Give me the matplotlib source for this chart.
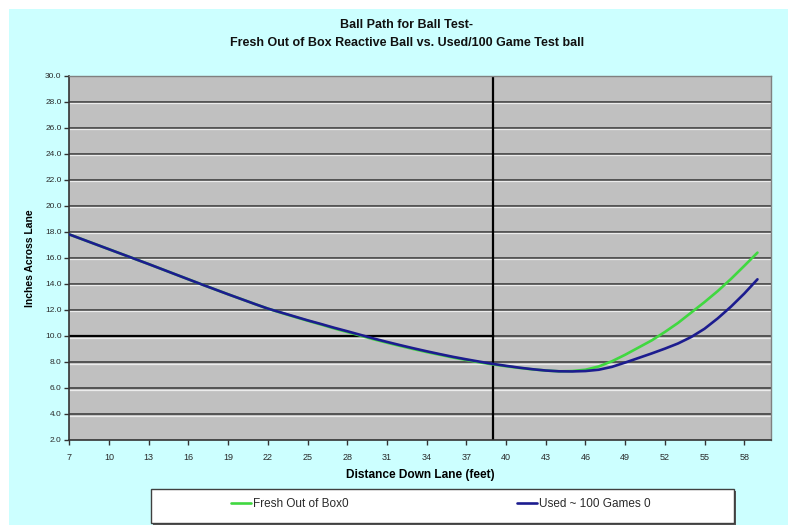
import matplotlib
matplotlib.use("Agg")
import matplotlib.pyplot as plt
from matplotlib.patches import Rectangle
import matplotlib.transforms as mtransforms

plt.rcParams['font.family'] = ['Liberation Sans', 'DejaVu Sans']

# ---- data ----
distance = list(range(7, 60))
fresh = [17.80, 17.42, 17.04, 16.66, 16.28, 15.90, 15.52, 15.13, 14.74, 14.35,
         13.96, 13.58, 13.20, 12.83, 12.46, 12.10, 11.78, 11.47, 11.17, 10.88,
         10.58, 10.30, 10.02, 9.74, 9.48, 9.23, 8.99, 8.76, 8.55, 8.34,
         8.15, 7.97, 7.81, 7.67, 7.54, 7.43, 7.34, 7.28,
         7.30, 7.40, 7.65, 8.05, 8.55, 9.10, 9.65, 10.30, 11.00, 11.80,
         12.60, 13.45, 14.38, 15.38, 16.40]
used = [17.80, 17.42, 17.04, 16.66, 16.28, 15.90, 15.52, 15.13, 14.74, 14.35,
        13.96, 13.58, 13.20, 12.83, 12.46, 12.10, 11.80, 11.50, 11.20, 10.92,
        10.63, 10.36, 10.08, 9.80, 9.54, 9.29, 9.05, 8.82, 8.60, 8.39,
        8.20, 8.02, 7.85, 7.70, 7.56, 7.44, 7.34, 7.28,
        7.27, 7.30, 7.40, 7.62, 7.95, 8.30, 8.65, 9.02, 9.42, 9.92,
        10.55, 11.35, 12.25, 13.25, 14.35]
x_ticks = list(range(7, 59, 3))
y_ticks = [2.0 + 2 * i for i in range(15)]
x_range = (7, 60)
marker_x = 39
marker_y = 10.0

title_lines = ["Ball Path for Ball Test-",
               "Fresh Out of Box Reactive Ball vs. Used/100 Game Test ball"]
fresh_label = "Fresh Out of Box0"
used_label = "Used ~ 100 Games 0"

# ---- figure ----
W, H = 788, 525
fig = plt.figure(figsize=(W / 100, H / 100), dpi=100)
fig.patch.set_facecolor('white')
fig.add_artist(Rectangle((9 / W, 0), 1, 1 - 9 / H, transform=fig.transFigure,
                         facecolor='#CCFFFF', edgecolor='none', zorder=-10))

ax = fig.add_axes([69.3 / W, 1 - 440 / H, (770.7 - 69.3) / W, (440 - 75.7) / H])
ax.set_facecolor('#C0C0C0')

# gridlines (dark line with light line just below)
light_off = mtransforms.offset_copy(ax.transData, fig=fig, x=0, y=-1.6, units='dots')
for yv in y_ticks[1:-1]:
    ax.axhline(yv, color='#4a4a4a', lw=1.3, zorder=1)
    ax.plot(x_range, [yv, yv], color='#ececec', lw=0.9, zorder=1, transform=light_off)

# marker lines
ax.axvline(marker_x, color='black', lw=1.6, zorder=2)
ax.plot([x_range[0], marker_x], [marker_y, marker_y], color='black', lw=1.6, zorder=2)

l1, = ax.plot(distance, fresh, color='#40d840', lw=1.9, zorder=3, solid_capstyle='round')
l2, = ax.plot(distance, used, color='#1c1c8f', lw=1.9, zorder=4, solid_capstyle='round')

ax.set_xlim(*x_range)
ax.set_ylim(y_ticks[0], y_ticks[-1])
ax.set_xticks(x_ticks)
ax.set_xticklabels([str(v) for v in x_ticks])
ax.set_yticks(y_ticks)
ax.set_yticklabels([f"{v:.1f}" for v in y_ticks])
ax.tick_params(axis='both', direction='out', length=3.5, width=1, color='#333333',
               labelcolor='#2a2a2a', pad=2)
ax.tick_params(axis='y', labelsize=6)
ax.tick_params(axis='x', labelsize=6.5, pad=6)

for s in ['left', 'bottom']:
    ax.spines[s].set_color('#333333')
    ax.spines[s].set_linewidth(1.2)
for s in ['top', 'right']:
    ax.spines[s].set_color('#808080')
    ax.spines[s].set_linewidth(1.0)

ax.set_xlabel("Distance Down Lane (feet)", fontsize=8.6, fontweight='bold', labelpad=5)
ax.set_ylabel("Inches Across Lane", fontsize=7.5, fontweight='bold', labelpad=7)

fig.text(407 / W, 1 - 25 / H, title_lines[0], ha='center', va='center', fontsize=9,
         fontweight='bold', color='#111111')
fig.text(407 / W, 1 - 43 / H, title_lines[1], ha='center', va='center', fontsize=9,
         fontweight='bold', color='#111111')

# legend box
fig.add_artist(Rectangle((153 / W, 1 - 525 / H), 583 / W, 34 / H, transform=fig.transFigure,
                         facecolor='#555555', edgecolor='none', zorder=5))
fig.add_artist(Rectangle((151 / W, 1 - 523 / H), 583 / W, 34 / H, transform=fig.transFigure,
                         facecolor='white', edgecolor='#404040', lw=1.0, zorder=6))
leg1 = fig.legend([l1], [fresh_label], loc='center left',
                  bbox_to_anchor=(231 / W, 1 - 504 / H), frameon=False, fontsize=8.5,
                  handlelength=1.7, handletextpad=0.15, borderpad=0, borderaxespad=0)
leg2 = fig.legend([l2], [used_label], loc='center left',
                  bbox_to_anchor=(517 / W, 1 - 504 / H), frameon=False, fontsize=8.5,
                  handlelength=1.7, handletextpad=0.15, borderpad=0, borderaxespad=0)
leg1.set_zorder(7)
leg2.set_zorder(7)
for lg in (leg1, leg2):
    for t in lg.get_texts():
        t.set_color('#2a2a2a')

fig.savefig('out.png', dpi=100)
